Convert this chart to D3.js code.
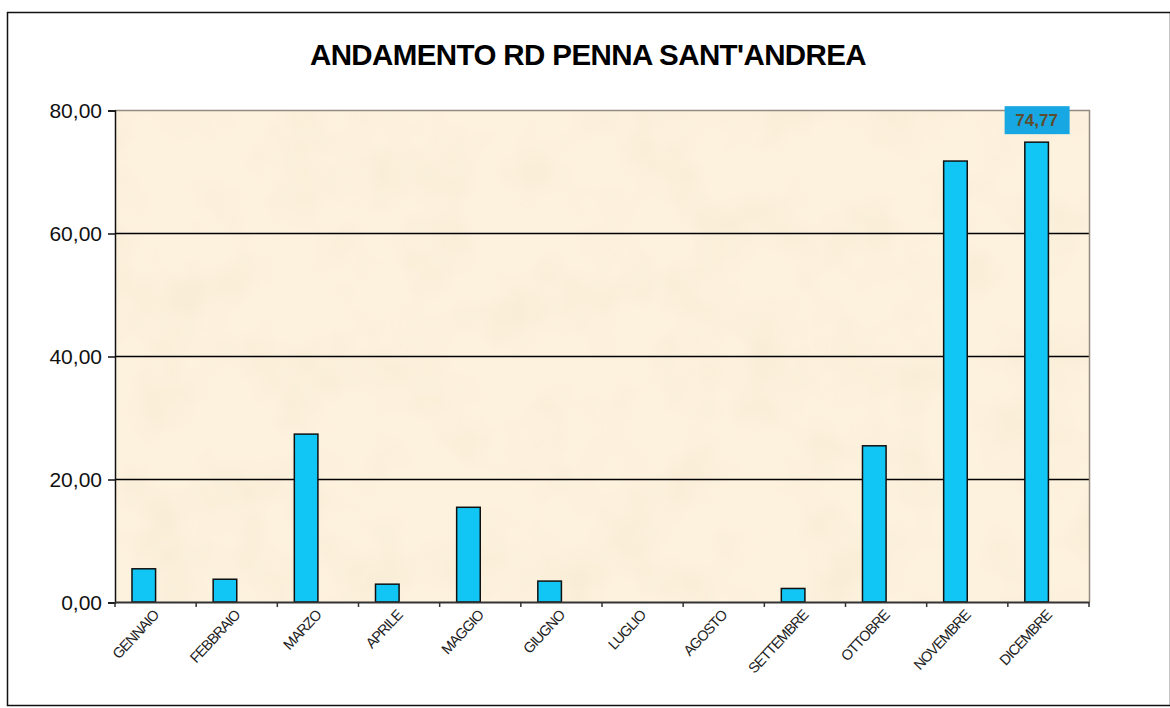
<!DOCTYPE html>
<html>
<head>
<meta charset="utf-8">
<script src="https://cdn.jsdelivr.net/npm/d3@7"></script>
<style>
  body { margin: 0; background: #fff; }
  svg { display: block; }
</style>
</head>
<body>
<div id="container"></div>
<script>
let width = 1170;
let height = 708;

// data
let months = ['GENNAIO', 'FEBBRAIO', 'MARZO', 'APRILE', 'MAGGIO', 'GIUGNO',
  'LUGLIO', 'AGOSTO', 'SETTEMBRE', 'OTTOBRE', 'NOVEMBRE', 'DICEMBRE'];
let values = [5.4, 3.7, 27.3, 2.9, 15.4, 3.4, 0, 0, 2.2, 25.4, 71.7, 74.77];
let yTicks = [0, 20, 40, 60, 80];
let labelled = ['DICEMBRE'];   // only the max has a data label

let margin = {top: 110, right: 81, bottom: 106, left: 115};
let font = "'Liberation Sans', Arial, sans-serif";

let viz = d3.select("#container").append("svg")
    .attr("width", width)
    .attr("height", height);

// parchment texture
let defs = viz.append("defs");
let filt = defs.append("filter").attr("id", "paper")
  .attr("x", 0).attr("y", 0).attr("width", "100%").attr("height", "100%");
filt.append("feTurbulence")
  .attr("type", "fractalNoise")
  .attr("baseFrequency", 0.015)
  .attr("numOctaves", 3)
  .attr("seed", 7)
  .attr("result", "noise");
filt.append("feColorMatrix")
  .attr("in", "noise")
  .attr("type", "matrix")
  .attr("values", "0 0 0 0 0.93  0 0 0 0 0.83  0 0 0 0 0.66  0 0 0 -1.8 1.0")
  .attr("result", "tint");
filt.append("feComposite").attr("in", "tint").attr("in2", "SourceGraphic").attr("operator", "in");

// outer frame
viz.append("rect")
  .attr("x", 7.5).attr("y", 12.5)
  .attr("width", width - 7).attr("height", 693)
  .attr("fill", "#fff")
  .attr("stroke", "#111")
  .attr("stroke-width", 1.5);

let x = d3.scaleBand()
  .domain(months)
  .range([margin.left, width - margin.right]);

// two slots per category, the second series is empty (Excel style)
let xSlot = d3.scaleBand()
  .domain(['rd', 'empty'])
  .range([0, x.bandwidth()])
  .paddingInner(0)
  .paddingOuter(0.72);

let y = d3.scaleLinear()
  .domain([0, 80])
  .range([height - margin.bottom, margin.top]);

// plot area
viz.append("rect")
  .attr("x", margin.left).attr("y", margin.top)
  .attr("width", x.range()[1] - margin.left)
  .attr("height", y(0) - y(80))
  .attr("fill", "#fdf2de");
viz.append("rect")
  .attr("x", margin.left).attr("y", margin.top)
  .attr("width", x.range()[1] - margin.left)
  .attr("height", y(0) - y(80))
  .attr("fill", "#fff")
  .attr("filter", "url(#paper)");

// gridlines
viz.append("g")
  .selectAll("line")
  .data(yTicks.filter(d => d > 0 && d < 80))
  .enter().append("line")
    .attr("x1", margin.left).attr("x2", x.range()[1])
    .attr("y1", d => y(d) + 0.5).attr("y2", d => y(d) + 0.5)
    .attr("stroke", "#000")
    .attr("stroke-width", 1.3);

// plot border top/right
viz.append("path")
  .attr("d", `M${margin.left},${y(80) + 0.5}H${x.range()[1] + 0.5}V${y(0)}`)
  .attr("fill", "none")
  .attr("stroke", "#948a80")
  .attr("stroke-width", 1.5);

// bars
viz.append("g")
  .selectAll("rect")
  .data(values)
  .enter().append("rect")
    .attr("x", (d, i) => x(months[i]) + xSlot('rd'))
    .attr("y", d => y(d))
    .attr("width", xSlot.bandwidth())
    .attr("height", d => y(0) - y(d))
    .attr("fill", "#11c6f4")
    .attr("stroke", "#111")
    .attr("stroke-width", 1.5)
    .style("display", d => d > 0 ? null : "none");

// y axis
let yAxis = viz.append("g")
  .attr("transform", `translate(${margin.left},0.5)`)
  .call(d3.axisLeft(y).tickValues(yTicks).tickSize(7).tickPadding(6)
    .tickFormat(d => d3.format(".2f")(d).replace(".", ",")));
yAxis.select(".domain").attr("stroke", "#111").attr("stroke-width", 1.5);
yAxis.selectAll(".tick line").attr("stroke", "#111").attr("stroke-width", 1.5);
yAxis.selectAll("text")
  .style("font-family", font)
  .style("font-size", "21px")
  .attr("fill", "#111");

// x axis
let xAxis = viz.append("g")
  .attr("transform", `translate(0,${y(0)})`)
  .call(d3.axisBottom(x).tickSize(0).tickSizeOuter(0).tickFormat(""));
xAxis.select(".domain").attr("stroke", "#333").attr("stroke-width", 2);

// category boundary ticks
let bounds = months.map(m => x(m)).concat([x.range()[1]]);
viz.append("g")
  .selectAll("line")
  .data(bounds)
  .enter().append("line")
    .attr("x1", d => d).attr("x2", d => d)
    .attr("y1", y(0)).attr("y2", y(0) + 5)
    .attr("stroke", "#333")
    .attr("stroke-width", 1.5);

// rotated month labels
viz.append("g")
  .selectAll("text")
  .data(months)
  .enter().append("text")
    .text(d => d)
    .attr("transform", d => `translate(${x(d) + x.bandwidth() / 2 + 4},${y(0) + 14}) rotate(-47)`)
    .attr("text-anchor", "end")
    .style("font-family", font)
    .style("font-size", "14.5px")
    .style("letter-spacing", "-1px")
    .attr("fill", "#222");

// data label on the max
let lab = viz.append("g")
  .selectAll("g")
  .data(months.map((m, i) => ({m: m, v: values[i]})).filter(d => labelled.includes(d.m)))
  .enter().append("g")
    .attr("transform", d => `translate(${x(d.m) + xSlot('rd') + xSlot.bandwidth() / 2},${y(d.v) - 22})`);
lab.append("rect")
  .attr("x", -32).attr("y", -14)
  .attr("width", 65).attr("height", 28)
  .attr("fill", "#17a8e3");
lab.append("text")
  .text(d => d3.format(".2f")(d.v).replace(".", ","))
  .attr("text-anchor", "middle")
  .attr("dy", "0.36em")
  .style("font-family", font)
  .style("font-size", "17px")
  .style("font-weight", "bold")
  .attr("fill", "#5e4c30");

// title
viz.append("text")
  .text("ANDAMENTO RD PENNA SANT'ANDREA")
  .attr("x", 588).attr("y", 65)
  .attr("text-anchor", "middle")
  .style("font-family", font)
  .style("font-size", "29.5px")
  .style("font-weight", "bold")
  .style("letter-spacing", "-0.6px")
  .attr("fill", "#000");
</script>
</body>
</html>
